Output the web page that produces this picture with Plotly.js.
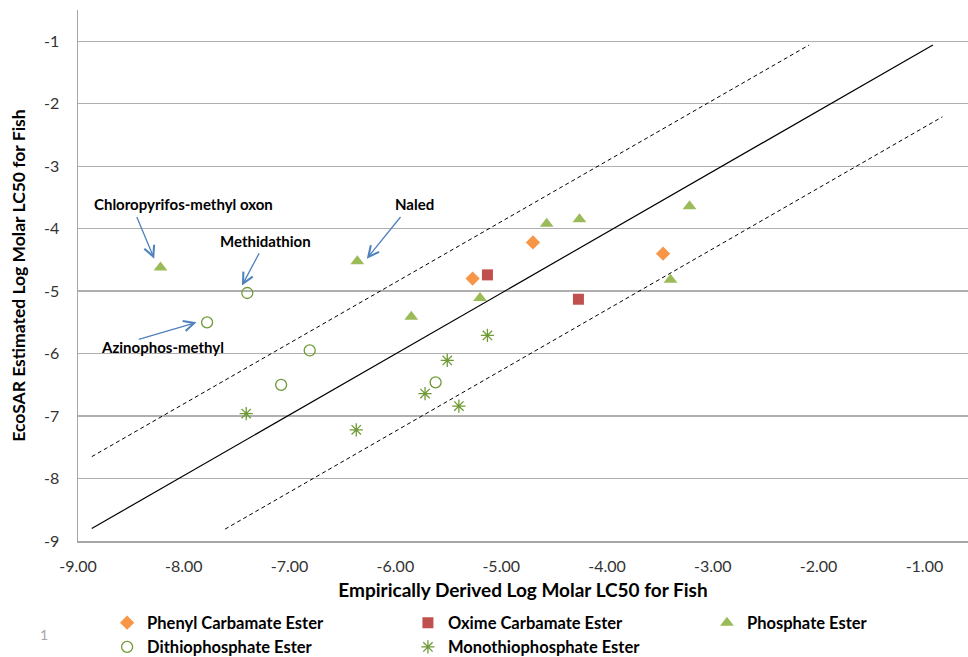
<!DOCTYPE html>
<html>
<head>
<meta charset="utf-8">
<script src="https://cdn.plot.ly/plotly-3.0.1.min.js"></script>
<style>html,body{margin:0;padding:0;background:#fff;}#chart{width:968px;height:657px;}</style>
</head>
<body>
<div id="chart"></div>
<script>
// ---- data ----
const phenylX = [-5.27, -4.70, -3.47];
const phenylY = [-4.80, -4.22, -4.40];

const oximeX = [-5.13, -4.27];
const oximeY = [-4.74, -5.13];

const phosphateX = [-8.22, -6.36, -5.85, -5.20, -4.57, -4.26, -3.22, -3.40];
const phosphateY = [-4.62, -4.52, -5.41, -5.11, -3.92, -3.85, -3.64, -4.82];

const dithioX = [-7.40, -7.78, -6.81, -7.08, -5.62];
const dithioY = [-5.03, -5.50, -5.95, -6.50, -6.46];

const monoX = [-7.41, -6.37, -5.72, -5.51, -5.40, -5.13];
const monoY = [-6.96, -7.22, -6.64, -6.11, -6.84, -5.71];

const fitX = [-8.87, -0.92];
const fitY = [-8.80, -1.06];
const upperX = [-8.87, -2.09];
const upperY = [-7.65, -1.06];
const lowerX = [-7.61, -0.83];
const lowerY = [-8.81, -2.21];

const xTickVals = [-9, -8, -7, -6, -5, -4, -3, -2, -1];
const xTickText = ["-9.00", "-8.00", "-7.00", "-6.00", "-5.00", "-4.00", "-3.00", "-2.00", "-1.00"];
const yTickVals = [-9, -8, -7, -6, -5, -4, -3, -2, -1];
const yTickText = ["-9", "-8", "-7", "-6", "-5", "-4", "-3", "-2", "-1"];

const labelNames = ["Chloropyrifos-methyl oxon", "Methidathion", "Naled", "Azinophos-methyl"];
const labelX = [-8.00, -7.23, -5.82, -8.20];
const labelY = [-3.61, -4.19, -3.61, -5.90];
const arrowTailX = [-8.45, -7.28, -5.94, -8.44];
const arrowTailY = [-3.79, -4.37, -3.79, -5.78];
const arrowHeadX = [-8.28, -7.45, -6.27, -7.88];
const arrowHeadY = [-4.48, -4.91, -4.48, -5.50];

// ---- traces ----
const FONT = "Lato, 'Liberation Sans', sans-serif";
const green = "#9BBB59";
const darkGreen = "#6F9A36";

// legend slot for each series
const legendIds = ["legend", "legend2", "legend3", "legend4", "legend5"];
const legendXs = [0.0327, 0.3707, 0.7067, 0.0327, 0.3707];
const legendYs = [-0.1544, -0.1544, -0.1544, -0.2000, -0.2000];

const traces = [
  {x: fitX, y: fitY, mode: "lines", line: {color: "#000", width: 1.2}, showlegend: false, hoverinfo: "skip"},
  {x: upperX, y: upperY, mode: "lines", line: {color: "#000", width: 1, dash: "4px,3px"}, showlegend: false, hoverinfo: "skip"},
  {x: lowerX, y: lowerY, mode: "lines", line: {color: "#000", width: 1, dash: "4px,3px"}, showlegend: false, hoverinfo: "skip"},
  {name: "Phenyl Carbamate Ester", x: phenylX, y: phenylY, mode: "markers", type: "scatter", legend: "legend",
   marker: {symbol: "diamond", size: 11, color: "#F79646"}},
  {name: "Oxime Carbamate Ester", x: oximeX, y: oximeY, mode: "markers", type: "scatter", legend: "legend2",
   marker: {symbol: "square", size: 11, color: "#C0504D"}},
  {name: "Phosphate Ester", x: phosphateX, y: phosphateY, mode: "markers", type: "scatter", legend: "legend3",
   marker: {symbol: "triangle-up", size: 12, color: green}},
  {name: "Dithiophosphate Ester", x: dithioX, y: dithioY, mode: "markers", type: "scatter", legend: "legend4",
   marker: {symbol: "circle-open", size: 11, color: darkGreen, line: {width: 1.3}}},
  {name: "Monothiophosphate Ester", x: monoX, y: monoY, mode: "markers", type: "scatter", legend: "legend5",
   marker: {symbol: "asterisk-open", size: 11, color: darkGreen, line: {width: 1.3, color: darkGreen}}}
];

const annotations = [];
for (let i = 0; i < labelNames.length; i++) {
  annotations.push({
    x: labelX[i], y: labelY[i], xref: "x", yref: "y", text: labelNames[i], showarrow: false,
    font: {family: FONT, size: 15, color: "#000", weight: "bold"}
  });
  annotations.push({
    x: arrowHeadX[i], y: arrowHeadY[i], ax: arrowTailX[i], ay: arrowTailY[i],
    xref: "x", yref: "y", axref: "x", ayref: "y", text: "", showarrow: true,
    arrowhead: 5, arrowsize: 1.6, arrowwidth: 1.3, arrowcolor: "#4F81BD", standoff: 0
  });
}
annotations.push({
  x: -0.0449, y: -0.196, xref: "paper", yref: "paper", text: "1", showarrow: false,
  font: {family: FONT, size: 14, color: "#A6A6A6"}
});

const layout = {
  width: 968, height: 657,
  margin: {l: 78, r: 0, t: 10, b: 116, autoexpand: false},
  paper_bgcolor: "#fff", plot_bgcolor: "#fff",
  font: {family: FONT, color: "#333"},
  showlegend: true,
  xaxis: {
    range: [-9, -0.588], tickmode: "array", tickvals: xTickVals, ticktext: xTickText,
    showgrid: false, zeroline: false, showline: true, linecolor: "#A6A6A6", linewidth: 1.5,
    ticks: "", ticklabelstandoff: 10,
    tickfont: {family: FONT, size: 16, color: "#333"},
    title: {text: "Empirically Derived Log Molar LC50 for Fish", standoff: 10,
            font: {family: FONT, size: 19, color: "#000", weight: "bold"}}
  },
  yaxis: {
    range: [-9, -0.5], tickmode: "array", tickvals: yTickVals, ticktext: yTickText,
    showgrid: true, gridcolor: "#AFAFAF", gridwidth: 1.3, zeroline: false,
    showline: true, linecolor: "#A6A6A6", linewidth: 1.5,
    ticks: "", ticklabelstandoff: 14,
    tickfont: {family: FONT, size: 16, color: "#333"},
    title: {text: "EcoSAR Estimated Log Molar LC50 for Fish", standoff: 14,
            font: {family: FONT, size: 17.5, color: "#000", weight: "bold"}}
  },
  annotations: annotations
};

for (let i = 0; i < legendIds.length; i++) {
  layout[legendIds[i]] = {
    x: legendXs[i], xanchor: "left", y: legendYs[i], yanchor: "middle",
    xref: "paper", yref: "paper", itemwidth: 30, bgcolor: "rgba(0,0,0,0)",
    font: {family: FONT, size: 16.5, color: "#000", weight: "bold"}
  };
}

Plotly.newPlot("chart", traces, layout, {displayModeBar: false, staticPlot: true});
</script>
</body>
</html>
